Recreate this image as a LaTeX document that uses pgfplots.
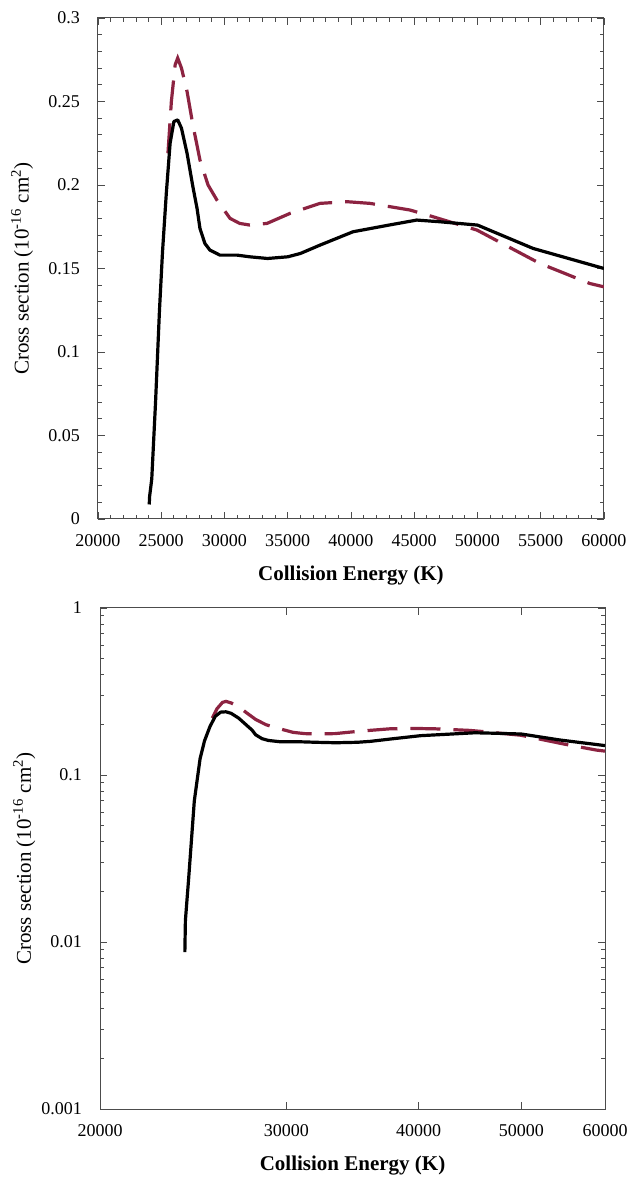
\documentclass[border=0pt]{standalone}
\usepackage{fontspec}
\setmainfont{Liberation Serif}
\usepackage{pgfplots}
\pgfplotsset{compat=1.18}
\definecolor{maroon}{RGB}{140,35,65}

\pgfplotstableread{
E s
24050 0.0087
24080 0.0135
24250 0.024
24550 0.07
24860 0.125
25100 0.16
25400 0.195
25700 0.225
26000 0.238
26300 0.239
26600 0.234
27040 0.219
27500 0.199
27830 0.186
28060 0.174
28450 0.165
28850 0.161
29640 0.158
31000 0.158
32000 0.157
33400 0.156
35000 0.157
36000 0.159
37550 0.164
40160 0.172
43000 0.176
45200 0.179
47000 0.178
50000 0.176
54400 0.162
60000 0.150
}\solid

\pgfplotstableread{
E s
25530 0.219
25800 0.25
26100 0.272
26300 0.276
26600 0.270
27040 0.256
27500 0.236
28060 0.215
28700 0.200
29400 0.191
30440 0.180
31200 0.177
32000 0.176
33360 0.177
35180 0.183
37550 0.189
39680 0.190
41500 0.189
44670 0.185
46480 0.181
49960 0.173
54940 0.153
58890 0.141
60000 0.139
}\dashed

\pgfplotsset{
  common/.style={
    scale only axis,
    anchor=south west,
    axis line style={black!70, line width=0.5pt},
    every tick/.style={black!70, line width=0.4pt},
    major tick length=3.5pt,
    minor tick length=2pt,
    tick align=inside,
    scaled x ticks=false, scaled y ticks=false,
    ticklabel style={font=\fontsize{9}{10}\selectfont},
    xticklabel style={anchor=center, yshift=-11pt},
    yticklabel style={anchor=east, xshift=-5.5pt},
    xlabel style={at={(axis description cs:0.5,-0.112)}, anchor=center, font=\fontsize{10.5}{12}\selectfont\bfseries},
    ylabel style={at={(axis description cs:-0.150,0.5)}, anchor=center, font=\fontsize{10.5}{12}\selectfont},
    xlabel={Collision Energy (K)},
    ylabel={Cross section (10\textsuperscript{-16} cm\textsuperscript{2})},
    xmin=20000, xmax=60000,
  },
  solidline/.style={black, line width=1.6pt, line join=round},
  dashline/.style={maroon, line width=1.6pt, dash pattern=on 15pt off 6.5pt},
}

\begin{document}
\begin{tikzpicture}
\path[use as bounding box] (0,0) rectangle (315pt,590pt);
\begin{axis}[common,
  at={(49pt,330.5pt)},
  width=253pt, height=250.5pt,
  ymin=0, ymax=0.3,
  xtick={20000,25000,30000,35000,40000,45000,50000,55000,60000},
  xticklabels={20000,25000,30000,35000,40000,45000,50000,55000,60000},
  minor x tick num=4,
  ytick={0,0.05,0.1,0.15,0.2,0.25,0.3},
  yticklabels={0,0.05,0.1,0.15,0.2,0.25,0.3},
  minor y tick num=4,
]
\addplot[dashline] table[x=E,y=s] {\dashed};
\addplot[solidline] table[x=E,y=s] {\solid};
\end{axis}

\begin{axis}[common,
  at={(50pt,35.5pt)},
  width=252.5pt, height=250.5pt,
  xmode=log, ymode=log,
  ymin=0.001, ymax=1,
  xtick={20000,30000,40000,50000,60000},
  xticklabels={20000,30000,40000,50000,60000},
  minor xtick={},
  ytick={0.001,0.01,0.1,1},
  yticklabels={0.001,0.01,0.1,1},
  minor ytick={0.002,0.003,0.004,0.005,0.006,0.007,0.008,0.009,0.02,0.03,0.04,0.05,0.06,0.07,0.08,0.09,0.2,0.3,0.4,0.5,0.6,0.7,0.8,0.9},
]
\addplot[dashline] table[x=E,y=s] {\dashed};
\addplot[solidline] table[x=E,y=s] {\solid};
\end{axis}
\end{tikzpicture}
\end{document}
